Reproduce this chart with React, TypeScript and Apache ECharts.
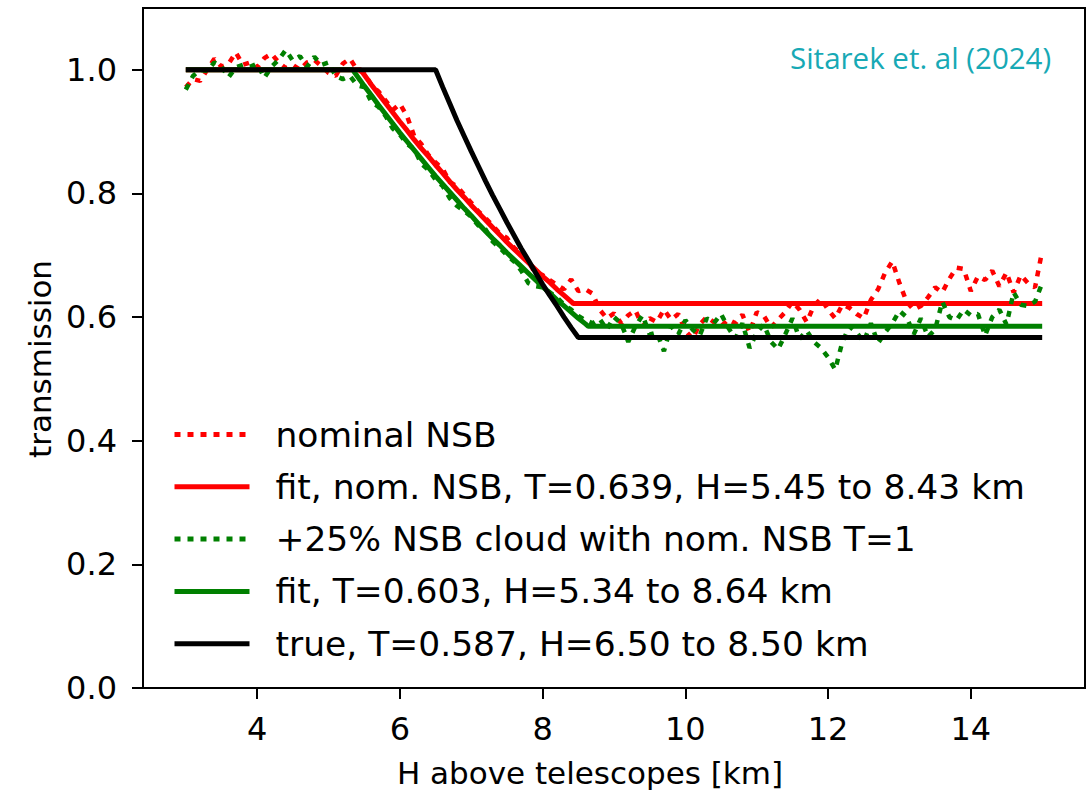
import React, { useEffect, useRef } from "react";
import * as echarts from "echarts";

// Heights of the measured profiles (km), 3.0 .. 15.0 in 0.1 km steps
const heights: number[] = Array.from({ length: 121 }, (_, i) => +(3 + i * 0.1).toFixed(1));

// nominal NSB (red dotted)
const nominalNSB: number[] = [
  0.972, 0.985, 0.982, 1.0, 1.018, 1.005, 1.01, 1.028, 1.008, 1.012,
  1.004, 1.019, 1.026, 1.012, 1.003, 1.008, 1.0, 1.012, 1.016, 1.006,
  0.995, 0.99, 1.01, 1.018, 1.0,
  0.995, 0.975, 0.965, 0.95, 0.935, 0.945, 0.925, 0.893, 0.88, 0.862,
  0.85, 0.84, 0.818, 0.812, 0.798, 0.785, 0.771, 0.76, 0.748, 0.735,
  0.728, 0.712, 0.703, 0.69, 0.67, 0.668, 0.66, 0.652, 0.645, 0.661,
  0.642, 0.645, 0.638, 0.612, 0.598,
  0.606, 0.59, 0.603, 0.611, 0.585, 0.598, 0.592, 0.612, 0.596, 0.605,
  0.578, 0.565, 0.588, 0.6, 0.592, 0.585, 0.596, 0.59, 0.604, 0.575,
  0.608, 0.602, 0.583, 0.596, 0.608, 0.625, 0.612, 0.592, 0.618, 0.63,
  0.612, 0.598, 0.62, 0.615, 0.605, 0.598, 0.628, 0.645, 0.672, 0.69,
  0.655, 0.625, 0.612, 0.618, 0.632, 0.648, 0.64, 0.662, 0.68, 0.678,
  0.642, 0.666, 0.66, 0.675, 0.65, 0.672, 0.64, 0.668, 0.655, 0.648,
  0.707,
];

// +25% NSB cloud with nominal NSB T=1 (green dotted)
const cloudNSB: number[] = [
  0.968, 0.99, 1.0, 0.998, 1.012, 1.005, 0.988, 1.004, 1.008, 1.005,
  1.01, 0.987, 1.005, 1.016, 1.032, 1.015, 1.022, 1.005, 1.021, 1.008,
  1.012, 0.99, 0.985, 0.99, 0.975,
  0.972, 0.948, 0.94, 0.925, 0.905, 0.895, 0.88, 0.872, 0.848, 0.838,
  0.822, 0.812, 0.792, 0.78, 0.772, 0.762, 0.748, 0.742, 0.722, 0.712,
  0.7, 0.69, 0.675, 0.655, 0.65, 0.648, 0.64, 0.632, 0.62, 0.612,
  0.602, 0.595, 0.59, 0.597, 0.58,
  0.6, 0.59, 0.56, 0.585, 0.603, 0.572, 0.575, 0.545, 0.585, 0.572,
  0.595, 0.58, 0.57, 0.598, 0.59, 0.605, 0.583, 0.565, 0.59, 0.55,
  0.575, 0.588, 0.56, 0.548, 0.572, 0.598, 0.565, 0.578, 0.56, 0.55,
  0.535, 0.515, 0.56, 0.585, 0.575, 0.56, 0.59, 0.558, 0.575, 0.59,
  0.61, 0.6, 0.572, 0.598, 0.568, 0.58, 0.625, 0.6, 0.595, 0.612,
  0.603, 0.605, 0.57, 0.6, 0.612, 0.588, 0.64, 0.62, 0.618, 0.625,
  0.655,
];

// fit, nominal NSB (red solid)
const redFitH: number[] = [
  3, 5.45, 5.5, 5.6, 5.7, 5.8, 5.9, 6.0, 6.1, 6.2, 6.3, 6.4, 6.5, 6.6, 6.7, 6.8, 6.9,
  7.0, 7.1, 7.2, 7.3, 7.4, 7.5, 7.6, 7.7, 7.8, 7.9, 8.0, 8.1, 8.2, 8.3, 8.4, 8.43, 15,
];
const redFitT: number[] = [
  1, 1, 0.992, 0.976, 0.961, 0.946, 0.931, 0.916, 0.902, 0.887, 0.873, 0.86, 0.846,
  0.833, 0.819, 0.806, 0.794, 0.781, 0.769, 0.757, 0.745, 0.733, 0.721, 0.71, 0.699,
  0.688, 0.677, 0.666, 0.656, 0.645, 0.635, 0.625, 0.622, 0.622,
];

// fit, +25% NSB cloud (green solid)
const greenFitH: number[] = [
  3, 5.34, 5.4, 5.5, 5.6, 5.7, 5.8, 5.9, 6.0, 6.1, 6.2, 6.3, 6.4, 6.5, 6.6, 6.7, 6.8,
  6.9, 7.0, 7.1, 7.2, 7.3, 7.4, 7.5, 7.6, 7.7, 7.8, 7.9, 8.0, 8.1, 8.2, 8.3, 8.4, 8.5,
  8.6, 8.64, 15,
];
const greenFitT: number[] = [
  1, 1, 0.99, 0.974, 0.959, 0.943, 0.928, 0.913, 0.898, 0.884, 0.87, 0.856, 0.842,
  0.828, 0.815, 0.802, 0.789, 0.776, 0.764, 0.751, 0.739, 0.727, 0.716, 0.704, 0.693,
  0.682, 0.671, 0.66, 0.649, 0.639, 0.628, 0.618, 0.608, 0.598, 0.589, 0.585, 0.585,
];

// true profile (black)
const trueH: number[] = [
  3, 6.5, 6.6, 6.7, 6.8, 6.9, 7.0, 7.1, 7.2, 7.3, 7.4, 7.5, 7.6, 7.7, 7.8, 7.9, 8.0,
  8.1, 8.2, 8.3, 8.4, 8.5, 15,
];
const trueT: number[] = [
  1, 1, 0.972, 0.945, 0.918, 0.893, 0.868, 0.844, 0.82, 0.797, 0.775, 0.753, 0.732,
  0.711, 0.692, 0.672, 0.653, 0.635, 0.618, 0.6, 0.583, 0.567, 0.567,
];

const seriesNames: string[] = [
  "nominal NSB",
  "fit, nom. NSB, T=0.639, H=5.45 to 8.43 km",
  "+25% NSB cloud with nom. NSB T=1",
  "fit, T=0.603, H=5.34 to 8.64 km",
  "true, T=0.587, H=6.50 to 8.50 km",
];

const xTicks: number[] = [4, 6, 8, 10, 12, 14];
const yTicks: number[] = [0, 0.2, 0.4, 0.6, 0.8, 1.0];

const FONT = "DejaVu Sans";

function zip(xs: number[], ys: number[]) {
  return xs.map((x, i) => [x, ys[i]]);
}

export default function App() {
  const ref = useRef<HTMLDivElement>(null);
  useEffect(() => {
    if (!ref.current) return;
    const chart = echarts.init(ref.current, undefined, { renderer: "svg" });
    const dotted = { width: 4.5, type: [6, 7] as number[], cap: "butt" as const };
    chart.setOption({
      animation: false,
      backgroundColor: "#ffffff",
      grid: {
        left: 143,
        right: 3,
        top: 8,
        bottom: 103,
        show: true,
        borderColor: "#000",
        borderWidth: 2,
        backgroundColor: "transparent",
      },
      xAxis: {
        type: "value",
        min: 2.4,
        max: 15.6,
        splitLine: { show: false },
        axisLine: { show: true, lineStyle: { color: "#000", width: 2 } },
        axisTick: {
          show: true,
          length: 11,
          lineStyle: { color: "#000", width: 2 },
          customValues: xTicks,
        },
        axisLabel: {
          customValues: xTicks,
          fontFamily: FONT,
          fontSize: 32,
          color: "#000",
          margin: 25,
          formatter: (v: number) => String(v),
        },
      },
      yAxis: {
        type: "value",
        min: 0,
        max: 1.1,
        splitLine: { show: false },
        axisLine: { show: true, lineStyle: { color: "#000", width: 2 } },
        axisTick: {
          show: true,
          length: 11,
          lineStyle: { color: "#000", width: 2 },
          customValues: yTicks,
        },
        axisLabel: {
          customValues: yTicks,
          fontFamily: FONT,
          fontSize: 32,
          color: "#000",
          margin: 26,
          formatter: (v: number) => v.toFixed(1),
        },
      },
      legend: {
        show: true,
        orient: "vertical",
        left: 167,
        top: 412,
        itemWidth: 75,
        itemHeight: 34,
        itemGap: 17.3,
        itemStyle: { opacity: 0 },
        lineStyle: { width: 5 },
        textStyle: {
          fontFamily: FONT,
          fontSize: 34.5,
          color: "#000",
          lineHeight: 34,
          padding: [0, 0, 0, 21],
        },
        data: seriesNames,
      },
      graphic: [
        {
          type: "text",
          left: 790,
          top: 42,
          style: {
            text: "Sitarek et. al (2024)",
            fontFamily: "Open Sans",
            fontSize: 29.5,
            fill: "#17a9b5",
          },
        },
        {
          type: "text",
          x: 590,
          y: 773,
          style: {
            text: "H above telescopes [km]",
            fontFamily: FONT,
            fontSize: 31,
            fill: "#000",
            align: "center",
            verticalAlign: "middle",
          },
        },
        {
          type: "text",
          x: 40,
          y: 359,
          rotation: Math.PI / 2,
          style: {
            text: "transmission",
            fontFamily: FONT,
            fontSize: 31,
            fill: "#000",
            align: "center",
            verticalAlign: "middle",
          },
        },
      ],
      series: [
        {
          name: seriesNames[0],
          type: "line",
          symbol: "none",
          data: zip(heights, nominalNSB),
          lineStyle: { color: "#ff0000", ...dotted },
          itemStyle: { color: "#ff0000" },
          z: 1,
        },
        {
          name: seriesNames[1],
          type: "line",
          symbol: "none",
          data: zip(redFitH, redFitT),
          lineStyle: { color: "#ff0000", width: 5 },
          itemStyle: { color: "#ff0000" },
          z: 2,
        },
        {
          name: seriesNames[2],
          type: "line",
          symbol: "none",
          data: zip(heights, cloudNSB),
          lineStyle: { color: "#008000", ...dotted },
          itemStyle: { color: "#008000" },
          z: 3,
        },
        {
          name: seriesNames[3],
          type: "line",
          symbol: "none",
          data: zip(greenFitH, greenFitT),
          lineStyle: { color: "#008000", width: 5 },
          itemStyle: { color: "#008000" },
          z: 4,
        },
        {
          name: seriesNames[4],
          type: "line",
          symbol: "none",
          data: zip(trueH, trueT),
          lineStyle: { color: "#000000", width: 5 },
          itemStyle: { color: "#000000" },
          z: 5,
        },
      ],
    });
    return () => chart.dispose();
  }, []);
  return (
    <div
      ref={ref}
      style={{ position: "fixed", left: 0, top: 0, width: 1088, height: 791, background: "#fff" }}
    />
  );
}
